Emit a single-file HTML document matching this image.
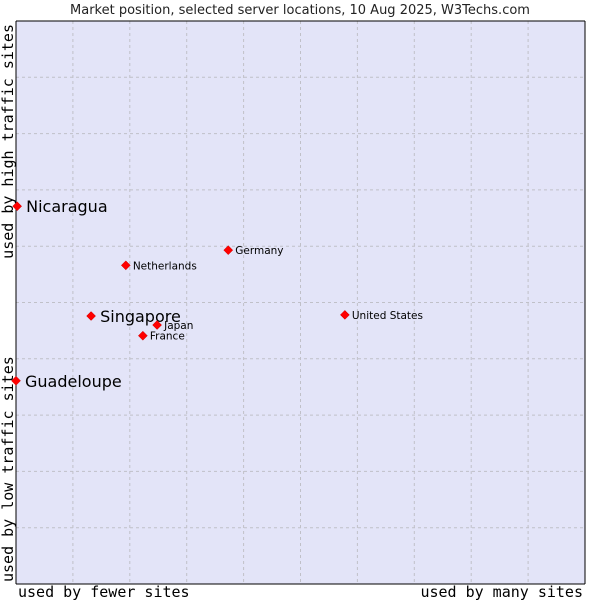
<!DOCTYPE html>
<html><head><meta charset="utf-8"><style>
body{margin:0;background:#fff;width:600px;height:600px;overflow:hidden}
svg{display:block}
</style></head><body>
<svg id="chart" width="600" height="600" xmlns="http://www.w3.org/2000/svg">
<text x="300" y="14" text-anchor="middle" font-family="DejaVu Sans, sans-serif" font-size="13" fill="#222">Market position, selected server locations, 10 Aug 2025, W3Techs.com</text>
<rect x="16" y="21" width="569" height="563" fill="#e3e4f8"/>
<g id="grid"></g>
<line x1="16" y1="21" x2="16" y2="584" stroke="#000"/>
<line x1="16" y1="21" x2="585" y2="21" stroke="#000"/>
<line x1="585" y1="21" x2="585" y2="584" stroke="#000"/>
<line x1="16" y1="584" x2="585" y2="584" stroke="#000"/>
<g id="points"></g>
<text x="18" y="597" font-family="DejaVu Sans Mono, monospace" font-size="15" fill="#000">used by fewer sites</text>
<text x="583" y="597" text-anchor="end" font-family="DejaVu Sans Mono, monospace" font-size="15" fill="#000">used by many sites</text>
<text transform="translate(13,582) rotate(-90)" font-family="DejaVu Sans Mono, monospace" font-size="15" fill="#000">used by low traffic sites</text>
<text transform="translate(13,24) rotate(-90)" text-anchor="end" font-family="DejaVu Sans Mono, monospace" font-size="15" fill="#000">used by high traffic sites</text>
</svg>
<script>
const names = ["Nicaragua","Guadeloupe","Singapore","Netherlands","Germany","United States","Japan","France"];
const xValues = [0.02,0.0,1.32,1.93,3.73,5.78,2.48,2.23];
const yValues = [6.71,3.61,4.76,5.66,5.93,4.78,4.60,4.41];
const highlighted = [true,true,true,false,false,false,false,false];
const gridTicks = [1,2,3,4,5,6,7,8,9];
const NS="http://www.w3.org/2000/svg";
const X0=16,X1=585,Y0=584,Y1=21,MAX=10;
function sx(v){return X0+(X1-X0)*v/MAX;}
function sy(v){return Y0-(Y0-Y1)*v/MAX;}
const grid=document.getElementById('grid');
gridTicks.forEach(t=>{
  const v=document.createElementNS(NS,'line');
  v.setAttribute('x1',sx(t));v.setAttribute('x2',sx(t));v.setAttribute('y1',Y1);v.setAttribute('y2',Y0);
  v.setAttribute('stroke','#c0c0c8');v.setAttribute('stroke-dasharray','3,3');
  
  
  grid.appendChild(v);
  const h=document.createElementNS(NS,'line');
  h.setAttribute('y1',sy(t));h.setAttribute('y2',sy(t));h.setAttribute('x1',X0);h.setAttribute('x2',X1);
  h.setAttribute('stroke','#c0c0c8');h.setAttribute('stroke-dasharray','3,3');
  
  
  grid.appendChild(h);
});
const pts=document.getElementById('points');
names.forEach((n,i)=>{
  const x=sx(xValues[i]),y=sy(yValues[i]);
  const d=document.createElementNS(NS,'polygon');
  d.setAttribute('points',`${x},${y-4.5} ${x+4.5},${y} ${x},${y+4.5} ${x-4.5},${y}`);
  d.setAttribute('fill','#f00');d.setAttribute('stroke','#c00');d.setAttribute('stroke-width','0.5');
  
  
  pts.appendChild(d);
  const t=document.createElementNS(NS,'text');
  const big=highlighted[i];
  t.setAttribute('x',x+(big?9:7));t.setAttribute('y',y+(big?6:4));
  t.setAttribute('font-family','DejaVu Sans, sans-serif');
  t.setAttribute('font-size',big?'16':'10.5');
  t.setAttribute('fill','#000');
  t.textContent=n;
  
  
  pts.appendChild(t);
});
</script>
</body></html>
